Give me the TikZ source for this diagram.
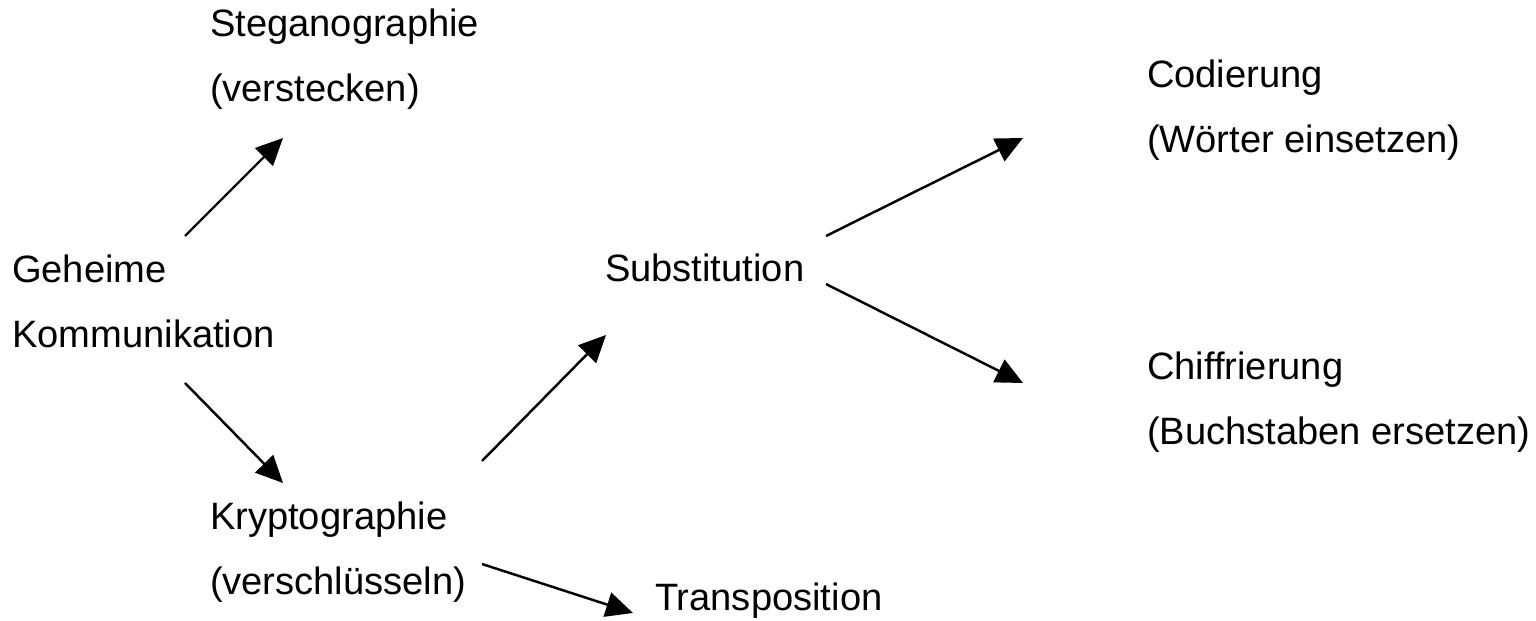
\documentclass[tikz,border=0pt]{standalone}
\usepackage{fontspec}
\setmainfont{Liberation Sans}
\usetikzlibrary{arrows.meta}

\begin{document}
\begin{tikzpicture}[x=0.02cm,y=-0.02cm,
				lbl/.style={inner sep=0pt,outer sep=0pt,anchor=base west,align=left,
					font=\fontsize{21.7}{37}\selectfont},
				arr/.style={line width=1.4pt,-{Triangle[length=0.54cm,width=0.5cm]}}]
				\useasboundingbox (0,0) rectangle (1536,621);
				% base of a two-line node is its last line
				\node[lbl] (geh)   at (12,348)   {Geheime\\Kommunikation};
				\node[lbl] (steg)  at (210,102)  {Steganographie\\(verstecken)};
				\node[lbl] (krypt) at (210,595)  {Kryptographie\\(verschlüsseln)};
				\node[lbl] (subst) at (605,282)  {Substitution};
				\node[lbl] (trans) at (655,611)  {Transposition};
				\node[lbl] (cod)   at (1147,153) {Codierung\\(Wörter einsetzen)};
				\node[lbl] (chiff) at (1147,445) {Chiffrierung\\(Buchstaben ersetzen)};

				\draw[arr] ([shift={(173,-112)}]geh.base west)   -- ([shift={(73,36)}]steg.base west);
				\draw[arr] ([shift={(173,35)}]geh.base west)     -- ([shift={(73,-112)}]krypt.base west);
				\draw[arr] ([shift={(272,-134)}]krypt.base west) -- ([shift={(1,53)}]subst.base west);
				\draw[arr] ([shift={(272,-31)}]krypt.base west)  -- ([shift={(-22,2)}]trans.base west);
				\draw[arr] ([shift={(221,-46)}]subst.base west)  -- ([shift={(-124,-15)}]cod.base west);
				\draw[arr] ([shift={(221,2)}]subst.base west)    -- ([shift={(-124,-62)}]chiff.base west);
			\end{tikzpicture}
\end{document}
